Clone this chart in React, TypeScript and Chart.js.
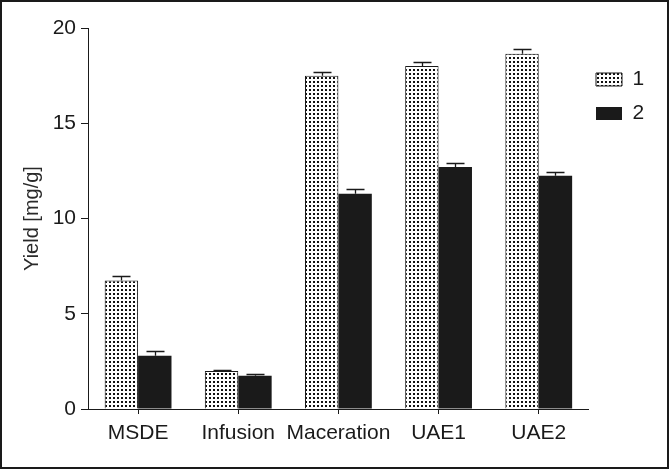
import React, { useEffect, useRef } from 'react';
import { Chart, registerables } from 'chart.js';

Chart.register(...registerables);

const categories = ['MSDE', 'Infusion', 'Maceration', 'UAE1', 'UAE2'];
const seriesNames = ['1', '2'];
const series1 = [6.75, 2.0, 17.5, 18.0, 18.65];
const series2 = [2.8, 1.75, 11.3, 12.7, 12.25];
const series1Err = [0.25, 0.06, 0.2, 0.2, 0.25];
const series2Err = [0.22, 0.09, 0.25, 0.2, 0.2];
const yTicks = [0, 5, 10, 15, 20];
const yTitle = 'Yield [mg/g]';

const FONT = "'Liberation Sans', Arial, Helvetica, sans-serif";
const INK = '#1a1a1a';

export default function App() {
  const ref = useRef<HTMLCanvasElement>(null);

  useEffect(() => {
    document.body.style.margin = '0';
    const canvas = ref.current!;
    const ctx = canvas.getContext('2d')!;

    const tile = document.createElement('canvas');
    tile.width = 4;
    tile.height = 4;
    const tg = tile.getContext('2d')!;
    tg.fillStyle = '#ffffff';
    tg.fillRect(0, 0, 4, 4);
    tg.fillStyle = '#111111';
    tg.fillRect(1, 1, 2, 2);
    const dots = ctx.createPattern(tile, 'repeat')!;

    const errs = [series1Err, series2Err];

    const errorBars = {
      id: 'errorBars',
      afterDatasetsDraw(chart: any) {
        const c = chart.ctx;
        const ys = chart.scales.y;
        chart.data.datasets.forEach((ds: any, di: number) => {
          const meta = chart.getDatasetMeta(di);
          meta.data.forEach((bar: any, i: number) => {
            const v = ds.data[i] as number;
            const top = Math.round(ys.getPixelForValue(v + errs[di][i])) + 0.5;
            const x = Math.round(bar.x) + 0.5;
            c.save();
            c.strokeStyle = INK;
            c.lineWidth = 1.3;
            c.beginPath();
            c.moveTo(x, bar.y);
            c.lineTo(x, top);
            c.moveTo(x - 9, top);
            c.lineTo(x + 9, top);
            c.stroke();
            c.restore();
          });
        });
      },
    };

    const LEGEND_LEFT = 583;
    const LEGEND_TOP = 56;
    const legendPlace = {
      id: 'legendPlace',
      afterLayout(chart: any) {
        const lg = chart.legend;
        if (!lg) return;
        lg.left = LEGEND_LEFT;
        lg.right = LEGEND_LEFT + lg.width;
        lg.top = LEGEND_TOP;
        lg.bottom = LEGEND_TOP + lg.height;
      },
    };

    const chart = new Chart(canvas, {
      type: 'bar',
      data: {
        labels: categories,
        datasets: [
          {
            label: seriesNames[0],
            data: series1,
            backgroundColor: dots as any,
            borderColor: INK,
            borderWidth: 1,
          },
          {
            label: seriesNames[1],
            data: series2,
            backgroundColor: INK,
            borderColor: INK,
            borderWidth: 0,
          },
        ],
      },
      options: {
        responsive: false,
        animation: false,
        events: [],
        categoryPercentage: 0.667,
        barPercentage: 1,
        layout: { padding: { left: 0, top: 28, right: 9, bottom: 0 } },
        plugins: {
          tooltip: { enabled: false },
          legend: {
            position: 'right',
            align: 'start',
            labels: {
              boxWidth: 26,
              boxHeight: 13,
              padding: 13,
              color: INK,
              font: { family: FONT, size: 21 },
            },
          },
        },
        scales: {
          x: {
            offset: true,
            grid: {
              display: true,
              offset: false,
              drawOnChartArea: false,
              drawTicks: true,
              tickLength: 5,
              color: INK,
            },
            border: { display: true, color: INK, width: 1 },
            ticks: {
              color: INK,
              padding: 7,
              autoSkip: false,
              maxRotation: 0,
              font: { family: FONT, size: 21 },
            },
            afterFit: (s: any) => {
              s.height = 60;
            },
          },
          y: {
            min: 0,
            max: 20,
            grid: {
              display: true,
              drawOnChartArea: false,
              drawTicks: true,
              tickLength: 7,
              color: INK,
            },
            border: { display: true, color: INK, width: 1 },
            ticks: {
              color: INK,
              padding: 5,
              font: { family: FONT, size: 21 },
            },
            afterBuildTicks: (s: any) => {
              s.ticks = yTicks.map((v) => ({ value: v }));
            },
            title: {
              display: true,
              text: yTitle,
              color: '#2a2a2a',
              font: { family: FONT, size: 20 },
              padding: { top: 20, bottom: 0 },
            },
            afterFit: (s: any) => {
              s.width = 88;
            },
          },
        },
      },
      plugins: [errorBars, legendPlace],
    } as any);

    return () => chart.destroy();
  }, []);

  return (
    <div style={{ position: 'relative', width: 669, height: 469, background: '#fff' }}>
      <canvas ref={ref} width={669} height={469} style={{ display: 'block' }} />
      <div
        style={{
          position: 'absolute',
          left: 0,
          top: 0,
          width: 669,
          height: 469,
          border: '2px solid #1a1a1a',
          boxSizing: 'border-box',
          pointerEvents: 'none',
        }}
      />
    </div>
  );
}
